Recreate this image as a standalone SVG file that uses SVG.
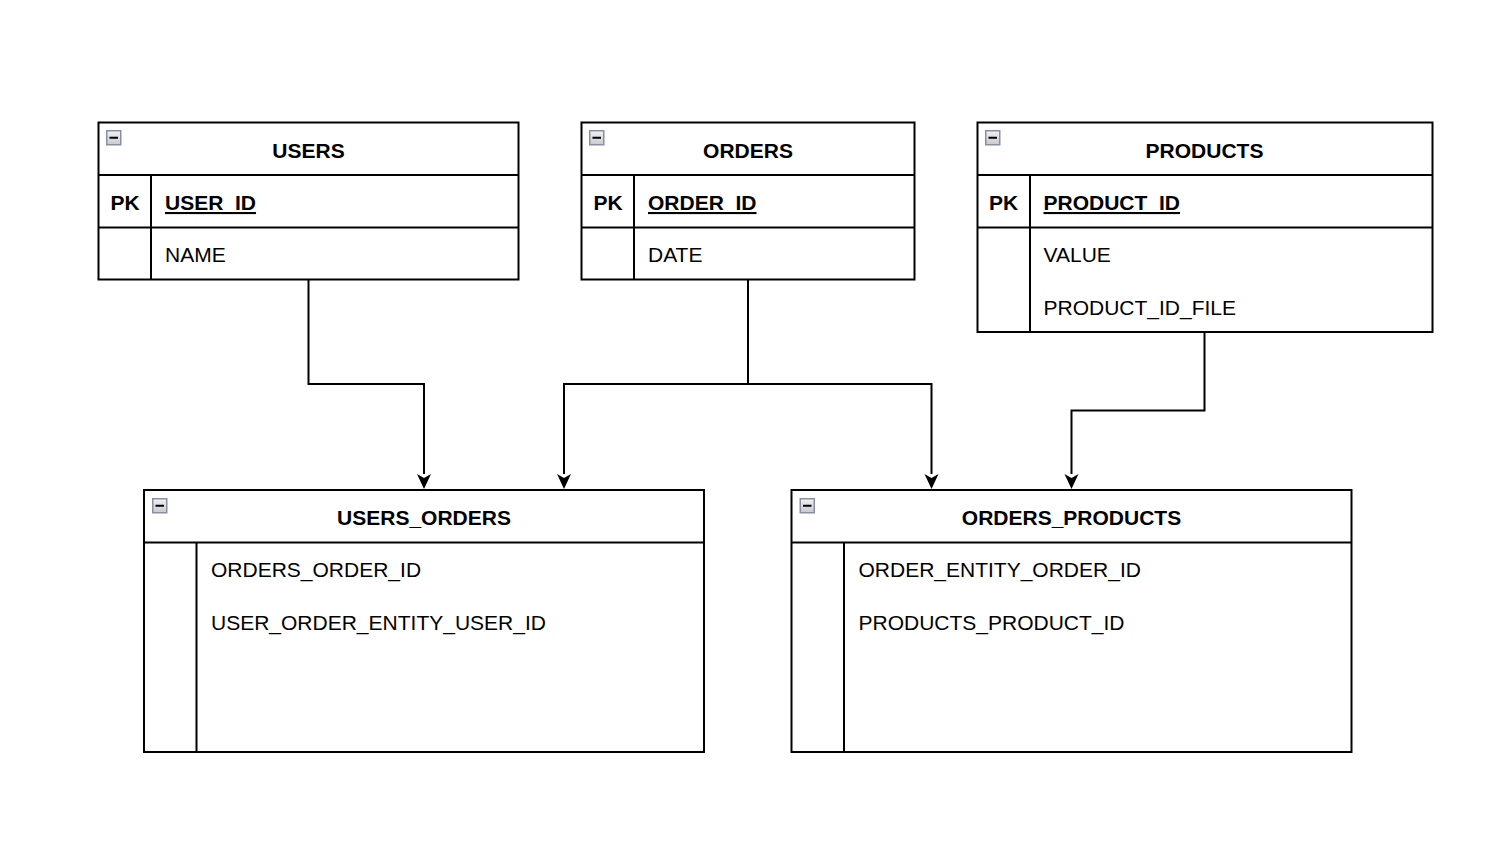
<svg xmlns="http://www.w3.org/2000/svg" width="1511" height="844" viewBox="0 0 1511 844">
<defs>
<linearGradient id="ig" x1="0" y1="0" x2="0" y2="1"><stop offset="0" stop-color="#f2f2f2"/><stop offset="1" stop-color="#c8c8d0"/></linearGradient>
<g id="icon"><rect x="0.75" y="0.75" width="14" height="14" fill="url(#ig)" stroke="#8a8fa3" stroke-width="1.5"/><rect x="3.5" y="6.75" width="8.5" height="2" fill="#000"/></g>
</defs>
<style>
.box{fill:#fff;stroke:#000;stroke-width:2}
.ln{stroke:#000;stroke-width:2;fill:none}
.t{font-family:"Liberation Sans",Arial,sans-serif;font-size:21px;fill:#000}
.h{font-family:"Liberation Sans",Arial,sans-serif;font-size:21px;font-weight:bold;fill:#000}
.c{stroke:#000;stroke-width:2;fill:none}
</style>
<rect width="1511" height="844" fill="#fff"/>
<g id="connectors">
<path class="c" d="M308.5 280 V384 H424 V474"/>
<path d="M417 474 L424 489 L431 474 L424 478 Z"/>
<path class="c" d="M748 280 V384 H564 V474"/>
<path d="M557 474 L564 489 L571 474 L564 478 Z"/>
<path class="c" d="M748 384 H931.5 V474"/>
<path d="M924.5 474 L931.5 489 L938.5 474 L931.5 478 Z"/>
<path class="c" d="M1204.5 332 V410.5 H1071.5 V474"/>
<path d="M1064.5 474 L1071.5 489 L1078.5 474 L1071.5 478 Z"/>
</g>
<g id="users">
<rect class="box" x="98.5" y="122.5" width="420" height="157"/>
<path class="ln" d="M98.5 175 H518.5 M98.5 227.5 H518.5 M151 175 V279.5"/>
<use href="#icon" x="106" y="130"/>
<text class="h" x="308.5" y="157.5" text-anchor="middle">USERS</text>
<text class="h" x="125" y="210" text-anchor="middle">PK</text>
<text class="h" x="165" y="210" text-decoration="underline">USER_ID</text>
<text class="t" x="165" y="262">NAME</text>
</g>
<g id="orders">
<rect class="box" x="581.5" y="122.5" width="333" height="157"/>
<path class="ln" d="M581.5 175 H914.5 M581.5 227.5 H914.5 M634 175 V279.5"/>
<use href="#icon" x="589" y="130"/>
<text class="h" x="748" y="157.5" text-anchor="middle">ORDERS</text>
<text class="h" x="608" y="210" text-anchor="middle">PK</text>
<text class="h" x="648" y="210" text-decoration="underline">ORDER_ID</text>
<text class="t" x="648" y="262">DATE</text>
</g>
<g id="products">
<rect class="box" x="977.5" y="122.5" width="455" height="209.5"/>
<path class="ln" d="M977.5 175 H1432.5 M977.5 227.5 H1432.5 M1030 175 V332"/>
<use href="#icon" x="985" y="130"/>
<text class="h" x="1204.5" y="157.5" text-anchor="middle">PRODUCTS</text>
<text class="h" x="1003.5" y="210" text-anchor="middle">PK</text>
<text class="h" x="1043.5" y="210" text-decoration="underline">PRODUCT_ID</text>
<text class="t" x="1043.5" y="262">VALUE</text>
<text class="t" x="1043.5" y="315">PRODUCT_ID_FILE</text>
</g>
<g id="users_orders">
<rect class="box" x="144" y="490" width="560" height="262"/>
<path class="ln" d="M144 542.5 H704 M196.5 542.5 V752"/>
<use href="#icon" x="152" y="498"/>
<text class="h" x="424" y="525" text-anchor="middle">USERS_ORDERS</text>
<text class="t" x="211" y="577">ORDERS_ORDER_ID</text>
<text class="t" x="211" y="630">USER_ORDER_ENTITY_USER_ID</text>
</g>
<g id="orders_products">
<rect class="box" x="791.5" y="490" width="560" height="262"/>
<path class="ln" d="M791.5 542.5 H1351.5 M844 542.5 V752"/>
<use href="#icon" x="799.5" y="498"/>
<text class="h" x="1071.5" y="525" text-anchor="middle">ORDERS_PRODUCTS</text>
<text class="t" x="858.5" y="577">ORDER_ENTITY_ORDER_ID</text>
<text class="t" x="858.5" y="630">PRODUCTS_PRODUCT_ID</text>
</g>
</svg>
